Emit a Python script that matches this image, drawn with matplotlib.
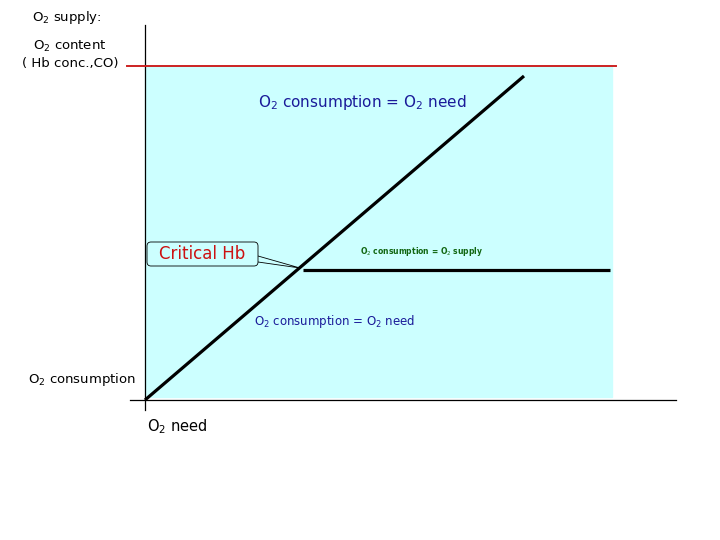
import matplotlib.pyplot as plt
from matplotlib.patches import Rectangle, FancyBboxPatch

# values in arbitrary units (origin = O2 need 0, O2 consumption 0)
need_line = [0, 379]
cons_line = [0, 324]
plateau_need = [158, 465]
plateau_cons = [130, 130]
supply_need = [-18, 471]
supply_level = [334, 334]
zone_need = (0, 467)
zone_cons = (3, 334)
critical_pt = (155, 132)

fig = plt.figure(figsize=(7.2, 5.4), dpi=100)
ax = fig.add_axes([0, 0, 1, 1])
ax.set_xlim(-145, 575)
ax.set_ylim(-140, 400)
ax.axis("off")

# shaded region
ax.add_patch(Rectangle((zone_need[0], zone_cons[0]), zone_need[1] - zone_need[0],
                       zone_cons[1] - zone_cons[0], color="#ccffff", zorder=0))

# axes
ax.plot([0, 0], [-10, 375], color="black", lw=0.9)
ax.plot([-15, 531], [0, 0], color="black", lw=0.9)

# supply level
ax.plot(supply_need, supply_level, color="#cc2222", lw=1.4)

# consumption lines
ax.plot(need_line, cons_line, color="black", lw=2.3, solid_capstyle="butt")
ax.plot(plateau_need, plateau_cons, color="black", lw=2.3, solid_capstyle="butt")

# labels
ax.text(-78, 382, "O$_2$ supply:", ha="center", va="center", fontsize=9.5)
ax.text(-75, 354, "O$_2$ content", ha="center", va="center", fontsize=9.5)
ax.text(-75, 336, "( Hb conc.,CO)", ha="center", va="center", fontsize=9.5)

ax.text(217, 297, "O$_2$ consumption = O$_2$ need", ha="center", va="center",
        fontsize=11, color="#1a1a99")
ax.text(190, 78, "O$_2$ consumption = O$_2$ need", ha="center", va="center",
        fontsize=8.5, color="#1a1a99")
ax.text(277, 148, "O$_2$ consumption = O$_2$ supply", ha="center", va="center",
        fontsize=5.5, color="#116611", fontweight="bold")

ax.text(-63, 20, "O$_2$ consumption", ha="center", va="center", fontsize=9.5)
ax.text(32, -27, "O$_2$ need", ha="center", va="center", fontsize=10.5)

# critical Hb callout
ax.add_patch(FancyBboxPatch((2, 134), 111, 24, boxstyle="round,pad=0,rounding_size=4",
                            fc="#ccffff", ec="black", lw=0.6, zorder=3))
ax.plot([113, critical_pt[0], 113], [144, critical_pt[1], 138], color="black", lw=0.6)
ax.text(57, 146, "Critical Hb", ha="center", va="center", fontsize=12,
        color="#cc1111", zorder=4)

fig.savefig("out.png", dpi=100)
